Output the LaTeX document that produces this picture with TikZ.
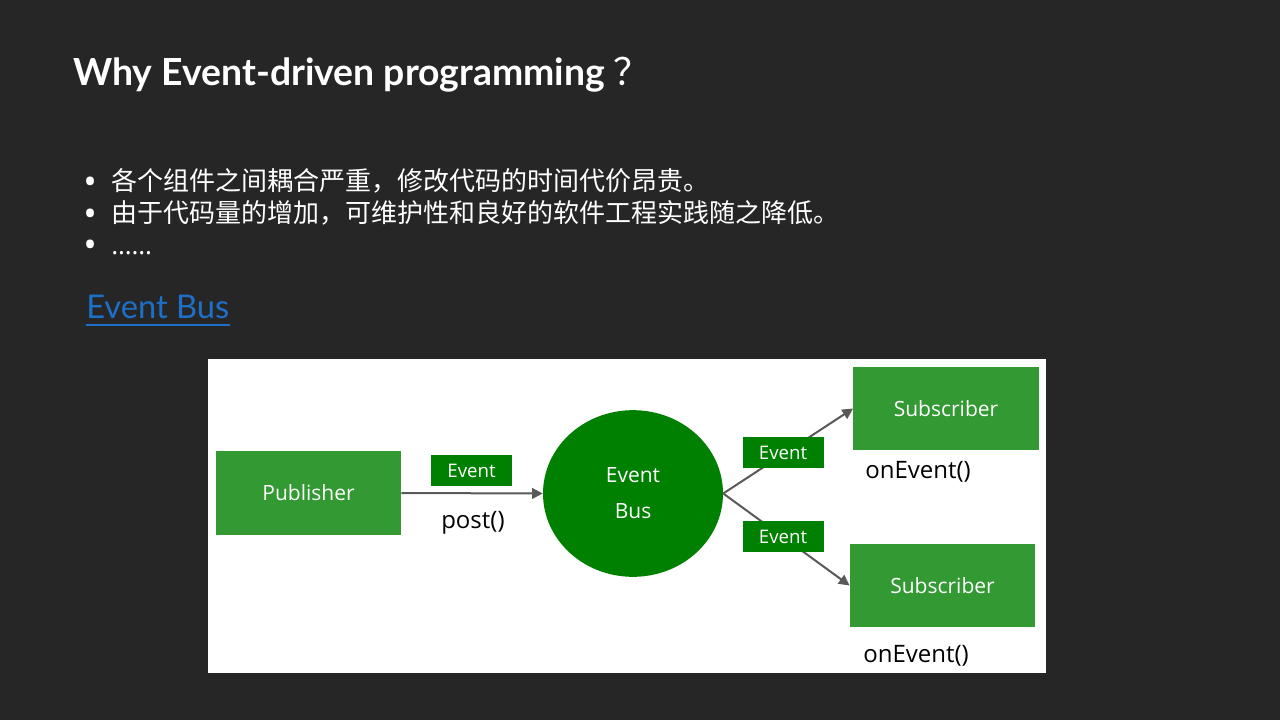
\documentclass[tikz,border=0pt]{standalone}
\usepackage{fontspec}
\setmainfont{Open Sans}
\newfontfamily\cjk{Noto Sans CJK SC}
\newfontfamily\headfont{Lato}
\usetikzlibrary{positioning,arrows.meta,shapes.geometric}
\definecolor{slidebg}{HTML}{262626}
\definecolor{linkblue}{HTML}{1E6FC8}
\definecolor{boxgreen}{HTML}{339933}
\definecolor{busgreen}{HTML}{008000}
\definecolor{arrgray}{HTML}{595959}

\begin{document}
\begin{tikzpicture}[x=0.75pt,y=-0.75pt,
  pbox/.style={rectangle,fill=boxgreen,text=white,minimum width=139pt,minimum height=62.5pt,font=\fontsize{15.75}{18}\selectfont},
  tag/.style={rectangle,fill=busgreen,text=white,minimum width=60.75pt,minimum height=23.25pt,inner sep=0pt,font=\fontsize{14}{16}\selectfont},
  call/.style={anchor=base west,text=black,inner sep=0pt,font=\fontsize{18}{20}\selectfont},
  item/.style={anchor=base west,inner sep=0pt,text height=15pt,text depth=3pt,text=white,font=\cjk\fontsize{19.5}{22}\selectfont},
  arr/.style={-{Triangle[length=8pt,width=8pt]},draw=arrgray,line width=1.5pt}
]
\newcommand\dotmark{\makebox[21pt][l]{\smash{\raisebox{-2.5pt}{\rmfamily\fontsize{27}{27}\selectfont •}}}}
\fill[slidebg] (0,0) rectangle (1280,720);
\useasboundingbox (0,0) rectangle (1280,720);

% heading and bullet list
\node[anchor=base west,inner sep=0pt,text=white,font=\headfont\bfseries\fontsize{28}{32}\selectfont] (title) at (73,86) {Why Event-driven programming {\cjk\mdseries ？}};
\node[item] (itemA) at (83,191) {\dotmark 各个组件之间耦合严重，修改代码的时间代价昂贵。};
\node[item] (itemB) at (83,223) {\dotmark 由于代码量的增加，可维护性和良好的软件工程实践随之降低。};
\node[item] (itemC) at (83,254) {\dotmark{\rmfamily ……}};
\node[anchor=base west,inner sep=0pt,text=linkblue,font=\headfont\fontsize{24.5}{28}\selectfont] (link) at (86,318) {Event Bus};
\draw[linkblue,line width=1.5pt] ([yshift=-5pt]link.base west) -- ([yshift=-5pt]link.base east);

% diagram panel
\fill[white] (208,359) rectangle (1046,673);

\node[pbox] (pub) at (308.5,493) {Publisher};
\node[ellipse,fill=busgreen,text=white,align=center,inner sep=0pt,minimum width=135pt,minimum height=125pt,font=\fontsize{15.75}{27}\selectfont] (bus) at (633,493.5) {Event\\Bus};
\node[pbox] (subA) at (946,408.5) {Subscriber};
\node[pbox] (subB) at (942.5,585.5) {Subscriber};

\draw[arr] (pub.east) -- (bus.west);
\draw[arr] (bus.east) -- (subA.west);
\draw[arr] (bus.east) -- (subB.west);

\node[tag] (tagPost) at (471.5,470.5) {Event};
\node[tag] (tagA) at (783,452.5) {Event};
\node[tag] (tagB) at (783,536.5) {Event};

\node[call] (post) at (441,528) {post()};
\node[call] (callA) at (865,478) {onEvent()};
\node[call] (callB) at (863,662) {onEvent()};
\end{tikzpicture}
\end{document}
